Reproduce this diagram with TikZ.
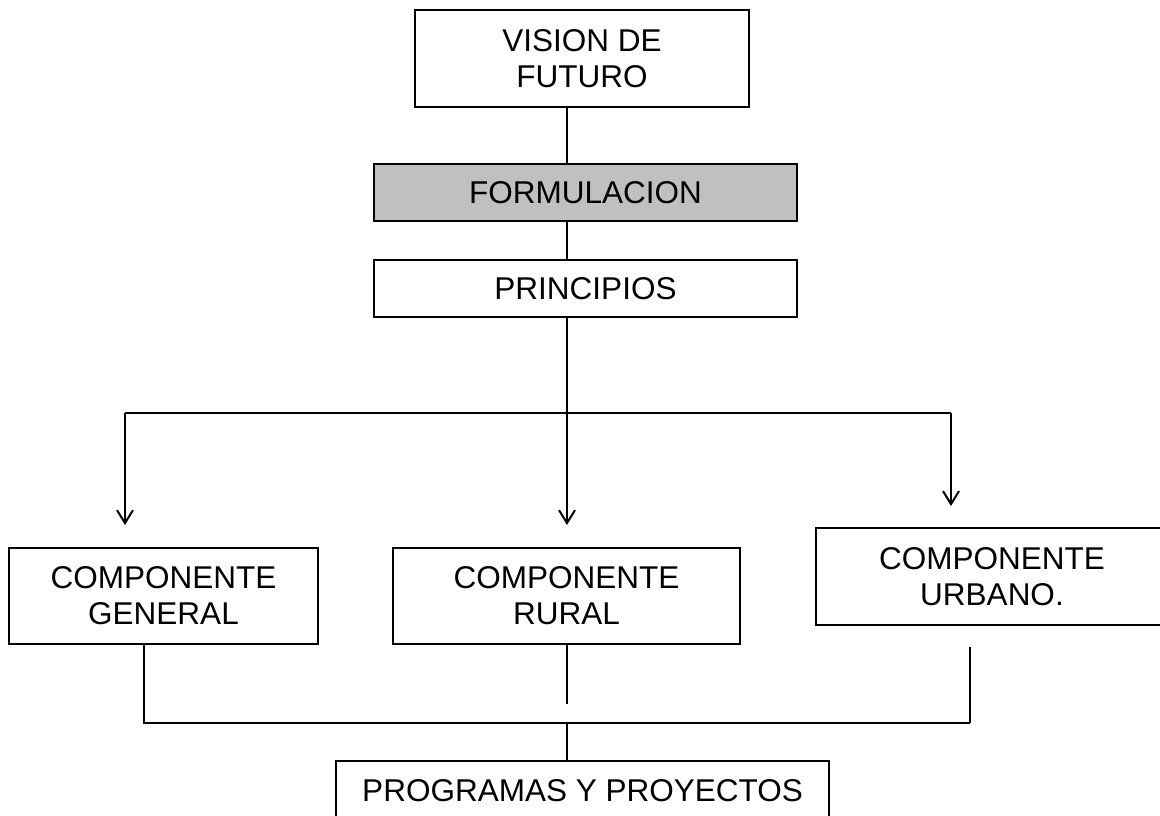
\documentclass[tikz,border=0pt]{standalone}
\usepackage{fontspec}
\setmainfont{Liberation Sans}
\usetikzlibrary{arrows.meta}
\definecolor{formgray}{HTML}{C0C0C0}

\begin{document}
\begin{tikzpicture}[x=1pt,y=-1pt,line width=2pt,
    box/.style={draw,inner sep=0pt,align=center,
      font=\fontsize{31.5}{36}\selectfont},
    arr/.style={-{Straight Barb[length=13pt,width=16pt,line width=2pt]}}]
      \useasboundingbox (0,0) rectangle (1160,815);
      % boxes
      \node[box,minimum width=334,minimum height=97] (vision) at (582,58.5) {VISION DE\\FUTURO};
      \node[box,fill=formgray,minimum width=423,minimum height=57] (formul) at (585.5,192.5) {FORMULACION};
      \node[box,minimum width=423,minimum height=57] (princ) at (585.5,288.5) {PRINCIPIOS};
      \node[box,minimum width=309,minimum height=96] (general) at (163.5,596) {COMPONENTE\\GENERAL};
      \node[box,minimum width=347,minimum height=96] (rural) at (566.5,596) {COMPONENTE\\RURAL};
      \node[box,minimum width=352,minimum height=97] (urbano) at (992,576.5) {COMPONENTE\\URBANO.};
      \node[box,minimum width=493,minimum height=60] (progr) at (582.5,791) {PROGRAMAS Y PROYECTOS};
      % guide points
      \coordinate (axis) at (567,413);
      \coordinate (left) at (125,413);
      \coordinate (right) at (951,413);
      \coordinate (joinL) at (144,723);
      \coordinate (joinR) at (970,723);
      % top chain
      \draw (vision.south -| axis)--(formul.north -| axis);
      \draw (formul.south -| axis)--(princ.north -| axis);
      \draw (princ.south -| axis)--(axis);
      % split
      \draw (left)--(right);
      \draw[arr] (left)--([yshift=22pt]general.north -| left);
      \draw[arr] (axis)--([yshift=22pt]rural.north -| axis);
      \draw[arr] (right)--([yshift=21pt]urbano.north -| right);
      % merge
      \draw (general.south -| joinL)--(joinL)--(joinR);
      \draw ([yshift=-21pt]urbano.south -| joinR)--(joinR);
      \draw (rural.south -| axis)--([yshift=19pt]joinL -| axis);
      \draw (joinL -| axis)--(progr.north -| axis);
    \end{tikzpicture}
\end{document}
